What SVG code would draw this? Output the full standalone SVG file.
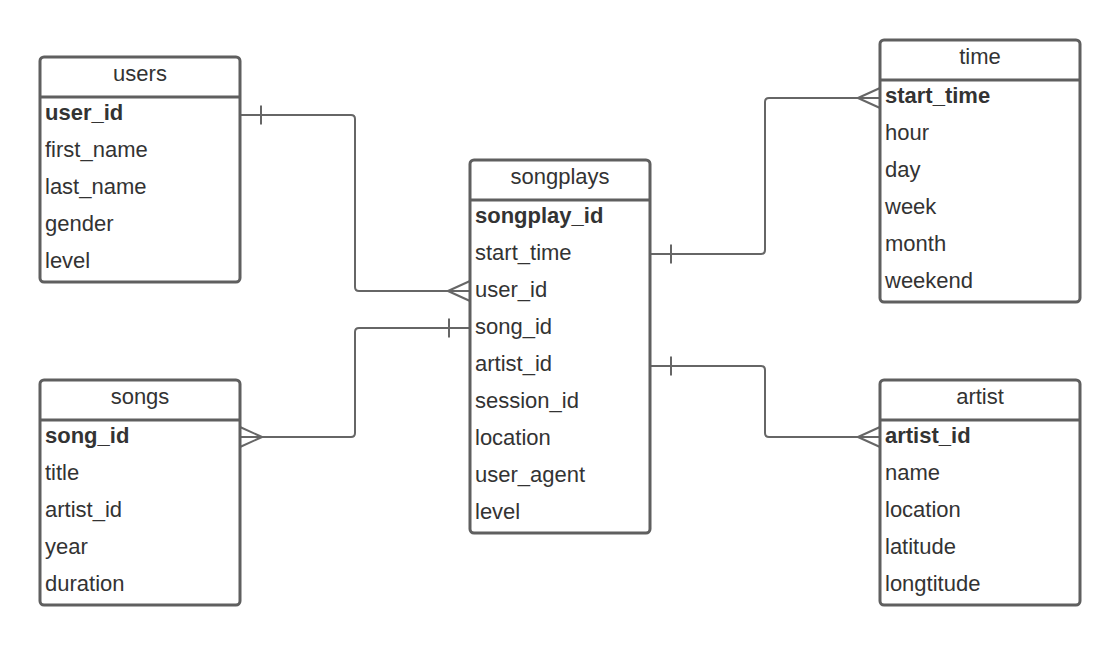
<svg xmlns="http://www.w3.org/2000/svg" width="1120" height="645" viewBox="0 0 1120 645">
<style>
.box{fill:#ffffff;stroke:#5f5f5f;stroke-width:3}
.div{stroke:#5f5f5f;stroke-width:3}
.ttl{font-family:"Liberation Sans",Arial,sans-serif;font-size:22px;fill:#333333;text-anchor:middle}
.fld{font-family:"Liberation Sans",Arial,sans-serif;font-size:22px;fill:#333333}
.key{font-weight:bold}
.con{fill:none;stroke:#666666;stroke-width:2}
</style>
<rect width="1120" height="645" fill="#ffffff"/>
<g id="connectors">
<path class="con" d="M240,115 H351 Q355,115 355,119 V287 Q355,291 359,291 H470"/>
<path class="con" d="M261,105.5 V124.5"/>
<path class="con" d="M448,291 L470,281 M448,291 L470,301"/>
<path class="con" d="M240,437 H351 Q355,437 355,433 V332 Q355,328 359,328 H470"/>
<path class="con" d="M262,437 L240,427 M262,437 L240,447"/>
<path class="con" d="M449,318.5 V337.5"/>
<path class="con" d="M650,254 H761 Q765,254 765,250 V102 Q765,98 769,98 H880"/>
<path class="con" d="M671,244.5 V263.5"/>
<path class="con" d="M858,98 L880,88 M858,98 L880,108"/>
<path class="con" d="M650,366 H761 Q765,366 765,370 V433 Q765,437 769,437 H880"/>
<path class="con" d="M671,356.5 V375.5"/>
<path class="con" d="M858,437 L880,427 M858,437 L880,447"/>
</g>
<g id="users">
<rect class="box" x="40" y="57" width="200" height="225" rx="4"/>
<line class="div" x1="40" y1="97" x2="240" y2="97"/>
<text class="ttl" x="140" y="81">users</text>
<text class="fld key" x="45" y="120">user_id</text>
<text class="fld" x="45" y="157">first_name</text>
<text class="fld" x="45" y="194">last_name</text>
<text class="fld" x="45" y="231">gender</text>
<text class="fld" x="45" y="268">level</text>
</g>
<g id="songplays">
<rect class="box" x="470" y="160" width="180" height="373" rx="4"/>
<line class="div" x1="470" y1="200" x2="650" y2="200"/>
<text class="ttl" x="560" y="184">songplays</text>
<text class="fld key" x="475" y="223">songplay_id</text>
<text class="fld" x="475" y="260">start_time</text>
<text class="fld" x="475" y="297">user_id</text>
<text class="fld" x="475" y="334">song_id</text>
<text class="fld" x="475" y="371">artist_id</text>
<text class="fld" x="475" y="408">session_id</text>
<text class="fld" x="475" y="445">location</text>
<text class="fld" x="475" y="482">user_agent</text>
<text class="fld" x="475" y="519">level</text>
</g>
<g id="time">
<rect class="box" x="880" y="40" width="200" height="262" rx="4"/>
<line class="div" x1="880" y1="80" x2="1080" y2="80"/>
<text class="ttl" x="980" y="64">time</text>
<text class="fld key" x="885" y="103">start_time</text>
<text class="fld" x="885" y="140">hour</text>
<text class="fld" x="885" y="177">day</text>
<text class="fld" x="885" y="214">week</text>
<text class="fld" x="885" y="251">month</text>
<text class="fld" x="885" y="288">weekend</text>
</g>
<g id="songs">
<rect class="box" x="40" y="380" width="200" height="225" rx="4"/>
<line class="div" x1="40" y1="420" x2="240" y2="420"/>
<text class="ttl" x="140" y="404">songs</text>
<text class="fld key" x="45" y="443">song_id</text>
<text class="fld" x="45" y="480">title</text>
<text class="fld" x="45" y="517">artist_id</text>
<text class="fld" x="45" y="554">year</text>
<text class="fld" x="45" y="591">duration</text>
</g>
<g id="artist">
<rect class="box" x="880" y="380" width="200" height="225" rx="4"/>
<line class="div" x1="880" y1="420" x2="1080" y2="420"/>
<text class="ttl" x="980" y="404">artist</text>
<text class="fld key" x="885" y="443">artist_id</text>
<text class="fld" x="885" y="480">name</text>
<text class="fld" x="885" y="517">location</text>
<text class="fld" x="885" y="554">latitude</text>
<text class="fld" x="885" y="591">longtitude</text>
</g>
</svg>
